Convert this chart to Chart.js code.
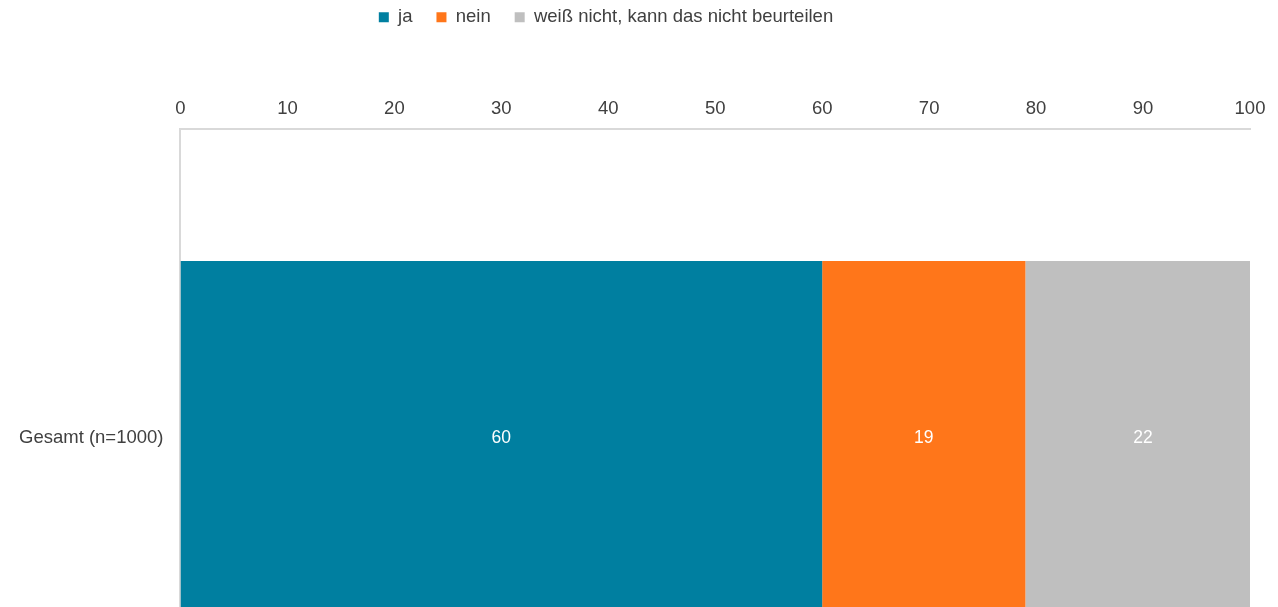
<!DOCTYPE html>
<html>
<head>
<meta charset="utf-8">
<script src="https://cdn.jsdelivr.net/npm/chart.js@4.4.1/dist/chart.umd.min.js"></script>
<style>
  html, body { margin: 0; padding: 0; background: #fff; overflow: hidden; }
  #wrap { width: 1278px; height: 776px; }
</style>
</head>
<body>
<div id="wrap"><canvas id="myChart" width="1278" height="776"></canvas></div>
<script>
const categories = ['Gesamt (n=1000)'];
const seriesNames = ['ja', 'nein', 'weiß nicht, kann das nicht beurteilen'];
const jaValues = [60];
const neinValues = [19];
const weissNichtValues = [22];
const xTickMin = 0;
const xTickMax = 100;
const xTickStep = 10;

const colors = ['#007fa0', '#ff761a', '#bfbfbf'];
const fontFamily = '"Liberation Sans", Arial, Helvetica, sans-serif';
const textColor = '#404040';

Chart.defaults.font.family = fontFamily;
Chart.defaults.font.size = 18.5;
Chart.defaults.color = textColor;

// white value labels in the middle of each segment
const barLabels = {
  id: 'barLabels',
  afterDatasetsDraw(chart) {
    const ctx = chart.ctx;
    ctx.save();
    ctx.font = '17.5px ' + fontFamily;
    ctx.fillStyle = '#ffffff';
    ctx.textAlign = 'center';
    ctx.textBaseline = 'middle';
    chart.data.datasets.forEach((ds, i) => {
      chart.getDatasetMeta(i).data.forEach((bar, j) => {
        ctx.fillText(ds.data[j], (bar.x + bar.base) / 2, bar.y);
      });
    });
    ctx.restore();
  }
};

// extra room under the legend, and move it up and a bit to the left
const legendSpacer = {
  id: 'legendSpacer',
  beforeInit(chart) {
    const fit = chart.legend.fit;
    chart.legend.fit = function () {
      fit.bind(chart.legend)();
      this.height += 36;
    };
  },
  afterLayout(chart) {
    const lg = chart.legend;
    lg.left -= 20;
    lg.right -= 20;
    lg.top -= 16;
    lg.bottom -= 16;
  }
};

const ctx = document.getElementById('myChart').getContext('2d');

let myChart = new Chart(ctx, {
  type: 'bar',
  data: {
    labels: categories,
    datasets: [
      { label: seriesNames[0], data: jaValues, backgroundColor: colors[0] },
      { label: seriesNames[1], data: neinValues, backgroundColor: colors[1] },
      { label: seriesNames[2], data: weissNichtValues, backgroundColor: colors[2] }
    ]
  },
  options: {
    indexAxis: 'y',
    responsive: false,
    animation: false,
    devicePixelRatio: 1,
    layout: { padding: { top: 0, right: 28, bottom: 14, left: 2 } },
    datasets: {
      bar: { categoryPercentage: 0.573, barPercentage: 1 }
    },
    plugins: {
      legend: {
        position: 'top',
        labels: {
          boxWidth: 10,
          boxHeight: 10,
          padding: 24
        }
      },
      tooltip: { enabled: false }
    },
    scales: {
      x: {
        position: 'top',
        stacked: true,
        min: xTickMin,
        max: xTickMax,
        ticks: { stepSize: xTickStep, padding: 9, color: textColor },
        grid: { display: false, drawTicks: false },
        border: { display: true, color: '#d9d9d9', width: 2 }
      },
      y: {
        stacked: true,
        ticks: { padding: 17, color: textColor },
        grid: { display: false, drawTicks: false },
        border: { display: true, color: '#d9d9d9', width: 2 }
      }
    }
  },
  plugins: [barLabels, legendSpacer]
});
</script>
</body>
</html>
